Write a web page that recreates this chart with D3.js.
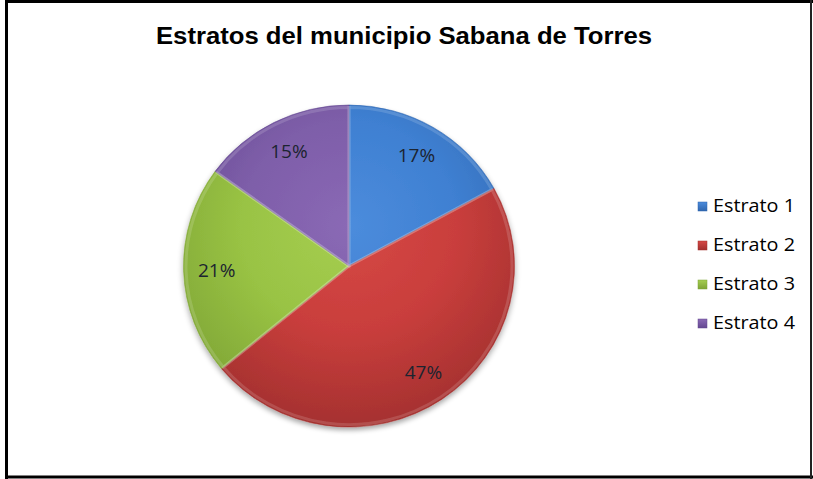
<!DOCTYPE html>
<html><head><meta charset="utf-8">
<script src="https://cdn.jsdelivr.net/npm/d3@7"></script>
<style>html,body{margin:0;padding:0;background:#fff;}svg{display:block;}</style>
</head><body>
<svg id="c" width="813" height="479"></svg>
<script>
const title = "Estratos del municipio Sabana de Torres";
const categories = ["Estrato 1", "Estrato 2", "Estrato 3", "Estrato 4"];
const values = [17, 47, 21, 15];
const baseColors = ["#3f80d2", "#c93e3c", "#99c344", "#7e5ea9"];
const lightColors = ["#4c8cdc", "#d64946", "#a6ce51", "#8a69b5"];
const darkColors = ["#2f66ae", "#a2302f", "#7ea435", "#634890"];

const W = 813, H = 479;
const svg = d3.select("#c");
const defs = svg.append("defs");

// frame
svg.append("rect").attr("x", 6.5).attr("y", 1.5).attr("width", 804.5).attr("height", 475.5)
  .attr("fill", "#fff").attr("stroke", "none");
const frame = svg.append("g").attr("stroke", "#000").attr("stroke-width", 3);
frame.append("line").attr("x1", 5).attr("x2", 813).attr("y1", 1.5).attr("y2", 1.5);
frame.append("line").attr("x1", 6.5).attr("x2", 6.5).attr("y1", 0).attr("y2", 479);
frame.append("line").attr("x1", 5).attr("x2", 813).attr("y1", 477).attr("y2", 477);
frame.append("line").attr("x1", 811).attr("x2", 811).attr("y1", 0).attr("y2", 479)
  .attr("stroke", "#222").attr("stroke-width", 2);

svg.append("text").attr("x", 404).attr("y", 44).attr("text-anchor", "middle")
  .attr("font-family", "Liberation Sans, Arial, sans-serif").attr("font-weight", "bold")
  .attr("font-size", 23).attr("fill", "#000")
  .attr("textLength", 496).attr("lengthAdjust", "spacingAndGlyphs").text(title);

const cx = 349, cy = 266, rx = 165.5, ry = 161;
const R = rx;

// shadow filter
const f = defs.append("filter").attr("id", "sh").attr("x", "-20%").attr("y", "-20%").attr("width", "140%").attr("height", "140%");
f.append("feGaussianBlur").attr("in", "SourceAlpha").attr("stdDeviation", 3);
f.append("feOffset").attr("dx", 0).attr("dy", 3).attr("result", "b");
f.append("feComponentTransfer").append("feFuncA").attr("type", "linear").attr("slope", 0.35);
const fm = f.append("feMerge"); fm.append("feMergeNode"); fm.append("feMergeNode").attr("in", "SourceGraphic");

categories.forEach((c, i) => {
  const g = defs.append("radialGradient").attr("id", "g" + i)
    .attr("gradientUnits", "userSpaceOnUse").attr("cx", 0).attr("cy", -R * 0.25).attr("r", R * 1.3);
  g.append("stop").attr("offset", "0%").attr("stop-color", lightColors[i]);
  g.append("stop").attr("offset", "50%").attr("stop-color", baseColors[i]);
  g.append("stop").attr("offset", "100%").attr("stop-color", darkColors[i]);
  const lg = defs.append("linearGradient").attr("id", "s" + i).attr("x1", 0).attr("y1", 0).attr("x2", 0).attr("y2", 1);
  lg.append("stop").attr("offset", "0%").attr("stop-color", lightColors[i]);
  lg.append("stop").attr("offset", "100%").attr("stop-color", darkColors[i]);
});

const pie = d3.pie().sort(null).value(d => d)(values);
const arc = d3.arc().innerRadius(0).outerRadius(R);
const labelArc = d3.arc().innerRadius(R * 0.8).outerRadius(R * 0.8);

const pg = svg.append("g").attr("transform", `translate(${cx},${cy}) scale(1,${ry / rx})`).attr("filter", "url(#sh)");
pg.selectAll("path.slice").data(pie).join("path").attr("class", "slice")
  .attr("d", arc).attr("fill", (d, i) => `url(#g${i})`)
  .attr("stroke", (d, i) => darkColors[i]).attr("stroke-width", 0.8).attr("stroke-opacity", 0.7);
// bevel highlight
const inner = d3.arc().innerRadius(0).outerRadius(R - 2.5);
pg.selectAll("path.hl").data(pie).join("path").attr("class", "hl")
  .attr("d", inner).attr("fill", "none")
  .attr("stroke", "#fff").attr("stroke-opacity", 0.15).attr("stroke-width", 3);

svg.append("g").selectAll("text").data(pie).join("text")
  .attr("transform", d => { const [x, y] = labelArc.centroid(d); return `translate(${cx + x},${cy + y * ry / rx})`; })
  .attr("text-anchor", "middle").attr("dy", "0.36em")
  .attr("font-family", "Open Sans, sans-serif").attr("font-size", 19).attr("fill", "#1c2430")
  .text((d, i) => values[i] + "%");

const lg = svg.append("g");
const rows = lg.selectAll("g").data(categories).join("g")
  .attr("transform", (d, i) => `translate(698,${206 + i * 39})`);
rows.append("rect").attr("x", 0).attr("y", -4).attr("width", 9).attr("height", 9)
  .attr("fill", (d, i) => `url(#s${i})`).attr("stroke", (d, i) => darkColors[i]).attr("stroke-width", 0.5);
rows.append("text").attr("x", 15).attr("y", 0).attr("dy", "0.36em")
  .attr("font-family", "Open Sans, sans-serif").attr("font-size", 18).attr("fill", "#000")
  .attr("textLength", 82).attr("lengthAdjust", "spacingAndGlyphs")
  .text(d => d);
</script>
</body></html>
